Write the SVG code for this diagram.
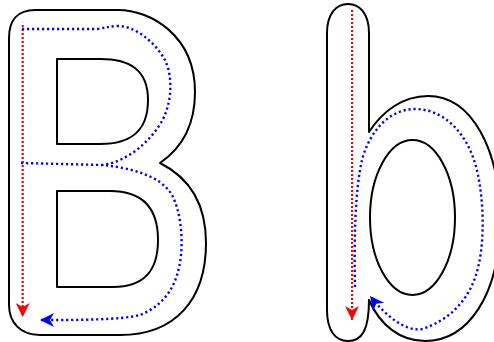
<svg xmlns="http://www.w3.org/2000/svg" width="494" height="342" viewBox="0 0 494 342">
<style>
.outline{fill:none;stroke:#000;stroke-width:2;stroke-linejoin:round}
.red{fill:none;stroke:#ff0000;stroke-width:2.2;stroke-dasharray:2,2}
.blue{fill:none;stroke:#0000ff;stroke-width:2.4;stroke-dasharray:2.2,2.8}
</style>
<defs>
<marker id="arrRed" markerUnits="userSpaceOnUse" markerWidth="20" markerHeight="20" viewBox="-16 -10 20 20" refX="0" refY="0" orient="auto">
<path d="M0,0 L-14,-7 L-10,0 L-14,7 Z" fill="#ff0000"/>
</marker>
<marker id="arrBlue" markerUnits="userSpaceOnUse" markerWidth="20" markerHeight="20" viewBox="-16 -10 20 20" refX="0" refY="0" orient="auto">
<path d="M0,0 L-14,-7 L-10,0 L-14,7 Z" fill="#0000ff"/>
</marker>
</defs>
<rect width="494" height="342" fill="#fff"/>
<g id="letter-B">
<path class="outline" d="M35,10 H118 C150,10 195,35 195,92 C195,125 182,148 160,163 C190,178 206,205 206,243 C206,300 175,335 120,335 H40 C20,335 9,322 9,305 V38 C9,20 18,10 35,10 Z"/>
<path class="outline" d="M57,59 H100 C130,59 148,70 148,100 C148,132 130,144 100,144 H57 Z"/>
<path class="outline" d="M57,191 H110 C145,191 158,210 158,240 C158,270 145,287 113,287 H57 Z"/>
</g>
<g id="letter-b">
<path class="outline" d="M327,33 C327,14 336,4 348,4 C360,4 369,14 369,33 V132 C382,112 402,96 428,96 C472,96 500,150 500,220 C500,295 468,341 425,341 C400,341 380,325 369,300 C369,330 362,341 348,341 C335,341 327,330 327,310 Z"/>
<ellipse class="outline" cx="412.5" cy="217.5" rx="42.5" ry="77.5"/>
</g>
<g id="connectors">
<path class="red" d="M22.7,25 V317" marker-end="url(#arrRed)"/>
<path class="blue" d="M22,29 H97 C105,28 110,26 118,26 C135,26 155,42 165,60 C172,75 172,95 166,112 C160,130 135,160 103,165"/>
<path class="blue" d="M21,163 L103,165 C130,168 160,175 172,195 C180,210 183,235 181,255 C178,285 165,305 140,315 C120,320 80,320 40,320" marker-end="url(#arrBlue)"/>
<path class="red" d="M352,10 V320" marker-end="url(#arrRed)"/>
<path class="blue" d="M355,287 C354,240 355,190 362,160 C370,130 390,109 415,109 C445,109 470,135 478,175 C485,210 484,250 476,275 C468,300 450,320 422,329 C405,332 385,315 370,296" marker-end="url(#arrBlue)"/>
</g>
</svg>
